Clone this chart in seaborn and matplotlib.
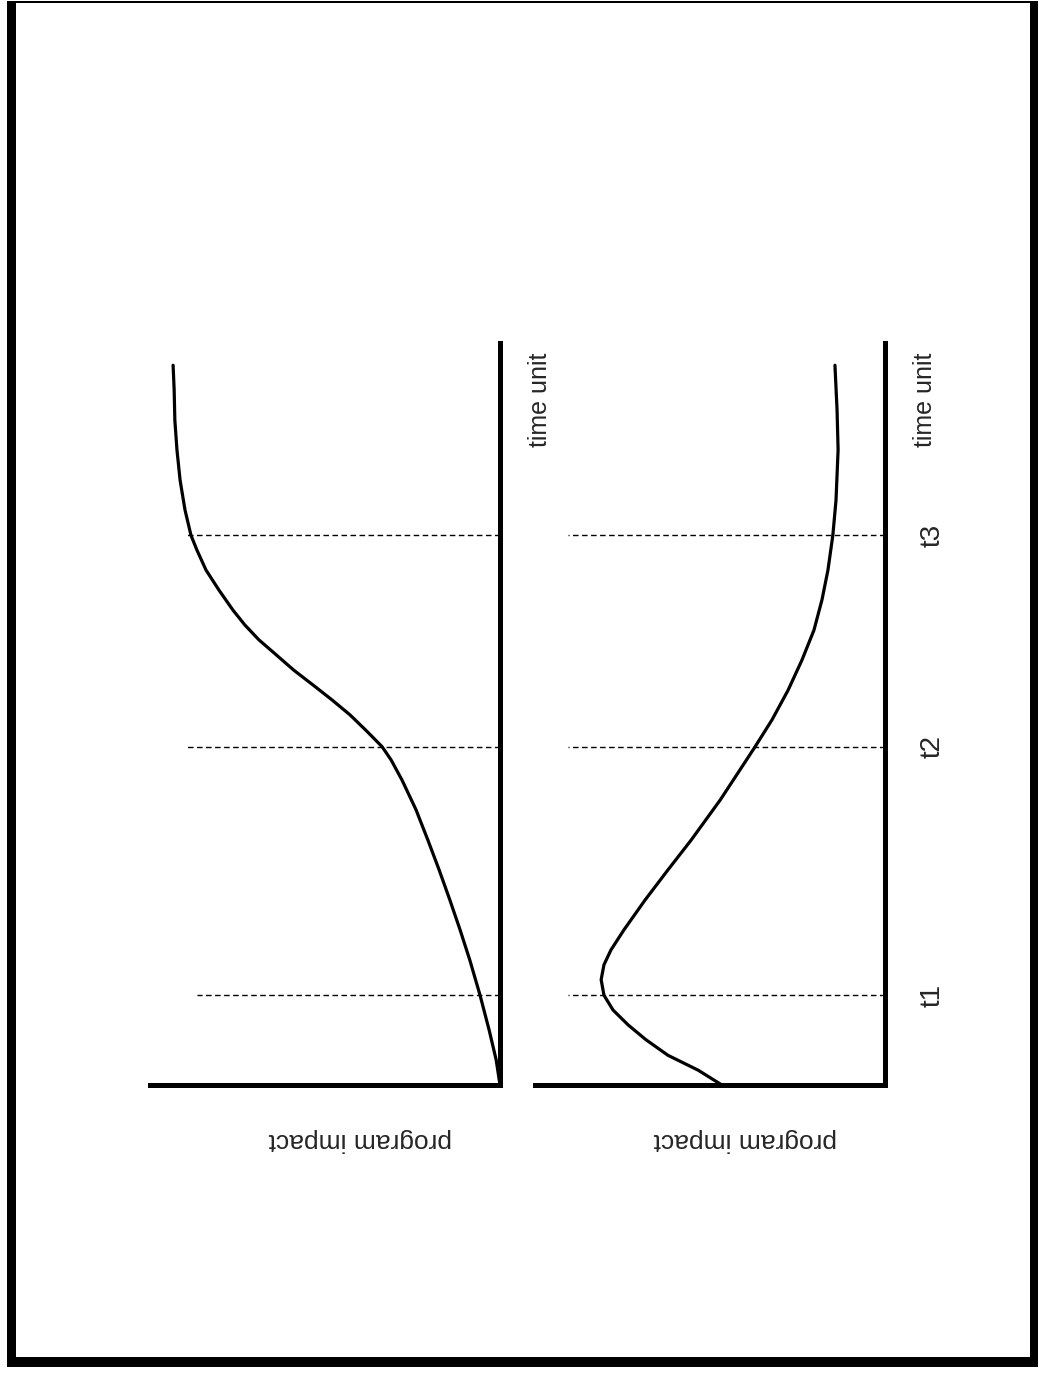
import numpy as np
import pandas as pd
import matplotlib
matplotlib.use("Agg")
import matplotlib.pyplot as plt
from matplotlib.patches import Rectangle
import seaborn as sns

# data: time (vertical, upward) and program impact (leftward)
time_top = [0.0, 0.34, 0.74, 1.21, 1.68, 2.09, 2.49, 2.90, 3.30, 3.71, 4.11,
            4.38, 4.56, 4.78, 4.99, 5.19, 5.39, 5.59, 5.80, 6.00, 6.20, 6.40,
            6.67, 6.94, 7.21, 7.41, 7.75, 8.15, 8.56, 8.96, 9.37, 9.70]
impact_top = [0.0, 0.11, 0.31, 0.57, 0.86, 1.14, 1.43, 1.74, 2.06, 2.40, 2.80,
              3.11, 3.37, 3.83, 4.29, 4.80, 5.34, 5.89, 6.40, 6.89, 7.29, 7.63,
              8.03, 8.40, 8.66, 8.83, 9.00, 9.14, 9.23, 9.29, 9.31, 9.34]

time_bottom = [0.0, 0.20, 0.40, 0.61, 0.81, 1.01, 1.21, 1.42, 1.62, 1.82, 2.09,
               2.49, 2.90, 3.30, 3.84, 4.25, 4.56, 4.92, 5.32, 5.73, 6.13, 6.54,
               6.94, 7.41, 7.88, 8.56, 9.10, 9.70]
impact_bottom = [4.66, 5.34, 6.20, 6.83, 7.34, 7.77, 8.03, 8.11, 8.03, 7.83, 7.46,
                 6.86, 6.20, 5.54, 4.71, 4.14, 3.71, 3.23, 2.77, 2.37, 2.03, 1.80,
                 1.63, 1.49, 1.40, 1.34, 1.37, 1.43]

t_labels = ["t1", "t2", "t3"]
t_values = [1.21, 4.56, 7.41]
dash_len_top = [8.66, 9.0, 9.0]
dash_len_bottom = [9.06, 9.06, 9.06]

sns.set_style("white")
plt.rcParams['font.family'] = ['Liberation Sans', 'DejaVu Sans']

W, H = 1039, 1374
fig = plt.figure(figsize=(W / 100, H / 100), dpi=100)


def px_rect(x0, y0, x1, y1):
    # rectangle given in pixel coords (origin top-left)
    return Rectangle((x0 / W, 1 - y1 / H), (x1 - x0) / W, (y1 - y0) / H,
                     transform=fig.transFigure, facecolor="black",
                     edgecolor="none")


# page frame (thick left/right/bottom, thin top)
for r in [px_rect(7, 1, 1038, 3), px_rect(7, 1, 16, 1367),
          px_rect(1030, 1, 1038, 1367), px_rect(7, 1357, 1038, 1367)]:
    fig.add_artist(r)

panels = [
    (150, impact_top, time_top, dash_len_top, False),
    (535, impact_bottom, time_bottom, dash_len_bottom, True),
]

for left_px, imp, tm, dash_len, show_t in panels:
    ax = fig.add_axes([left_px / W, 1 - 1085 / H, 350 / W, (1085 - 343) / H])
    df = pd.DataFrame({"impact": imp, "time": tm})
    sns.lineplot(data=df, x="impact", y="time", sort=False, estimator=None,
                 color="black", linewidth=2.3, ax=ax)
    ax.lines[-1].set_solid_joinstyle("round")
    for tv, dl in zip(t_values, dash_len):
        ax.plot([0, dl], [tv, tv], color="black", linewidth=1.0,
                linestyle=(0, (4, 2.5)))
    ax.set_xlim(10, 0)
    ax.set_ylim(0, 10)
    ax.set_xticks([])
    ax.set_yticks([])
    ax.set_xlabel("")
    ax.set_ylabel("")
    for s in ["top", "left"]:
        ax.spines[s].set_visible(False)
    for s in ["right", "bottom"]:
        ax.spines[s].set_visible(True)
        ax.spines[s].set_linewidth(3.6)
        ax.spines[s].set_color("black")
        ax.spines[s].set_capstyle("projecting")
    ax.patch.set_alpha(0)

    ax.text(-1.15, 9.23, "time unit", rotation=90, fontsize=18,
            ha="center", va="center", clip_on=False)
    ax.text(4.0, -0.74, "program impact", rotation=180, fontsize=19,
            ha="center", va="center", clip_on=False)
    if show_t:
        for lab, tv in zip(t_labels, t_values):
            ax.text(-1.37, tv, lab, rotation=90, fontsize=20,
                    ha="center", va="center", clip_on=False)

fig.savefig("out.png", dpi=100, facecolor="white")
